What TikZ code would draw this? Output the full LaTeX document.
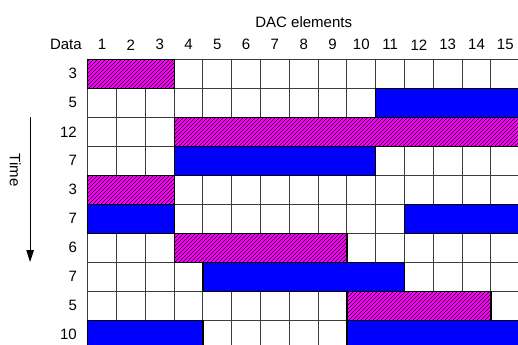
\documentclass[tikz,border=0pt]{standalone}
\usepackage{fontspec}
\setmainfont{Liberation Sans}
\usepackage{xcolor}
\definecolor{dacMagenta}{RGB}{255, 0, 255}
\definecolor{dacBlue}{RGB}{0, 0, 255}
\definecolor{gridGray}{RGB}{60, 60, 60}
\usepackage{tikz}
\usetikzlibrary{
    arrows.meta,
    patterns.meta
}

\begin{document}
\begin{tikzpicture}[
    x=28.8pt, y=-29pt,
    cellLine/.style={
        draw=gridGray, line width=0.9pt
    },
    hatchBar/.style={
        preaction={fill=dacMagenta},
        pattern={Lines[angle=45, distance=2.8284pt, line width=0.6pt]},
        pattern color=black,
        draw=black, line width=1.2pt
    },
    solidBar/.style={
        fill=dacBlue, draw=black, line width=1.2pt
    },
    labelText/.style={
        font=\fontsize{15}{17}\selectfont, inner sep=0pt
    },
    rowLabel/.style={
        labelText, anchor=east
    },
    timeArrow/.style={
        -{Triangle[length=12pt, width=7.5pt]}, line width=0.9pt, draw=black
    }
]

    % Frame of the picture
    \useasboundingbox (-3.045, -2.045) rectangle (14.94, 9.85);
    \clip (-3.045, -2.045) rectangle (14.94, 9.85);

    % Headers
    \node[labelText] (title) at (7.5, -1.29) {DAC elements};
    \node[labelText, anchor=east] (dataHead) at (-0.2, -0.5) {Data};
    \foreach \c in {1,...,15}
        \node[labelText] (col\c) at (\c-0.5, -0.5) {\c};

    % Data values per time step
    \foreach \v [count=\r] in {3,5,12,7,3,7,6,7,5,10}
        \node[rowLabel] (data\r) at (-0.37, \r-0.5) {\v};

    % Cells
    \foreach \r in {1,...,10}
        \foreach \c in {1,...,15}
            \draw[cellLine] (\c-1, \r-1) rectangle (\c, \r);

    % Selected elements
    \foreach \r/\a/\b in {1/1/3, 3/4/15, 5/1/3, 7/4/9, 9/10/14}
        \draw[hatchBar] (\a-1, \r-1) rectangle (\b, \r);
    \foreach \r/\a/\b in {2/11/15, 4/4/10, 6/1/3, 6/12/15, 8/5/11, 10/1/4, 10/10/15}
        \draw[solidBar] (\a-1, \r-1) rectangle (\b, \r);

    % Time axis
    \coordinate (tStart) at (-2, 1.99);
    \coordinate (tEnd) at (-2, 6.99);
    \draw[timeArrow] (tStart) -- (tEnd);
    \node[labelText, rotate=-90] (timeLabel) at (-2.52, 3.82) {Time};

\end{tikzpicture}
\end{document}
